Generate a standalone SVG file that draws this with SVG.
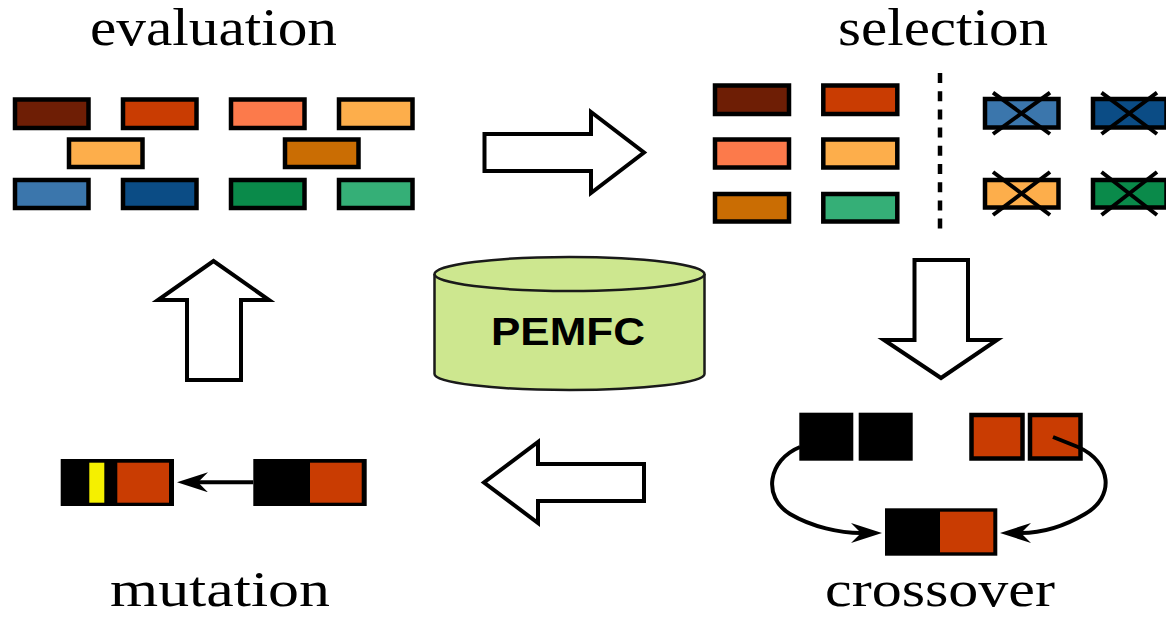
<svg xmlns="http://www.w3.org/2000/svg" width="1166" height="617" viewBox="0 0 1166 617">
<style>
.lbl{font-family:"Liberation Serif","Times New Roman",serif;font-size:53px;fill:#000}
.lblb{font-family:"Liberation Serif","Times New Roman",serif;font-size:50px;fill:#000}
.b{stroke:#000;stroke-width:4.5}
.bigarrow{fill:#fff;stroke:#000;stroke-width:4;stroke-linejoin:miter}
.x{stroke:#000;stroke-width:4;stroke-linecap:butt}
.conn{fill:none;stroke:#000;stroke-width:4}
.c1{fill:#6E1E05}.c2{fill:#C93C02}.c3{fill:#FC7A4B}.c4{fill:#FDAE4B}.c5{fill:#CA6D03}
.c6{fill:#3B76AC}.c7{fill:#0B4C85}.c8{fill:#0A8A4A}.c9{fill:#35AF77}
</style>
<defs>
<marker id="ah" viewBox="0 0 31 20" refX="10" refY="10" markerWidth="31" markerHeight="20" markerUnits="userSpaceOnUse" orient="auto">
<path d="M0,0 L31,10 L0,20 L10,10 Z" fill="#000"/>
</marker>
</defs>
<rect width="1166" height="617" fill="#fff"/>

<g id="evaluation">
<text class="lbl" x="90" y="45" textLength="247" lengthAdjust="spacingAndGlyphs">evaluation</text>
<rect class="b c1" x="15" y="99.5" width="73.5" height="28.5"/>
<rect class="b c2" x="123" y="99.5" width="73.5" height="28.5"/>
<rect class="b c3" x="231" y="99.5" width="73.5" height="28.5"/>
<rect class="b c4" x="339" y="99.5" width="73.5" height="28.5"/>
<rect class="b c4" x="69" y="139.5" width="73.5" height="27.5"/>
<rect class="b c5" x="285" y="139.5" width="73.5" height="27.5"/>
<rect class="b c6" x="15" y="180" width="73.5" height="28"/>
<rect class="b c7" x="123" y="180" width="73.5" height="28"/>
<rect class="b c8" x="231" y="180" width="73.5" height="28"/>
<rect class="b c9" x="339" y="180" width="73.5" height="28"/>
</g>

<g id="selection">
<text class="lbl" x="838" y="45" textLength="210" lengthAdjust="spacingAndGlyphs">selection</text>
<rect class="b c1" x="715" y="85.5" width="74" height="28.5"/>
<rect class="b c2" x="823.3" y="85.5" width="74" height="28.5"/>
<rect class="b c3" x="715" y="139.5" width="74" height="28"/>
<rect class="b c4" x="823.3" y="139.5" width="74" height="28"/>
<rect class="b c5" x="715" y="194" width="74" height="27.5"/>
<rect class="b c9" x="823.3" y="194" width="74" height="27.5"/>
<line x1="940" y1="73" x2="940" y2="236" stroke="#000" stroke-width="4.5" stroke-dasharray="10 8.2"/>
<rect class="b c6" x="985" y="99" width="73.5" height="28.5"/>
<rect class="b c7" x="1093" y="99" width="73.5" height="28.5"/>
<rect class="b c4" x="985" y="180" width="73.5" height="27.5"/>
<rect class="b c8" x="1093" y="180" width="73.5" height="27.5"/>
<line class="x" x1="993" y1="92.7" x2="1050" y2="134"/>
<line class="x" x1="1050" y1="92.7" x2="993" y2="134"/>
<line class="x" x1="1101.5" y1="92.7" x2="1157" y2="134"/>
<line class="x" x1="1157" y1="92.7" x2="1101.5" y2="134"/>
<line class="x" x1="993" y1="172" x2="1050" y2="215"/>
<line class="x" x1="1050" y1="172" x2="993" y2="215"/>
<line class="x" x1="1101.5" y1="172" x2="1157" y2="215"/>
<line class="x" x1="1157" y1="172" x2="1101.5" y2="215"/>
</g>

<g id="pemfc">
<path d="M434.5,274 L434.5,374 A135,16 0 0 0 704.5,374 L704.5,274" fill="#CDE78F" stroke="#1a1a1a" stroke-width="2.5"/>
<ellipse cx="569.5" cy="274" rx="135" ry="17" fill="#CDE78F" stroke="#1a1a1a" stroke-width="2.5"/>
<text x="568" y="345" font-family="'Liberation Sans',Arial,sans-serif" font-weight="bold" font-size="39.5" text-anchor="middle" textLength="154" lengthAdjust="spacingAndGlyphs">PEMFC</text>
</g>

<g id="crossover">
<rect x="799.3" y="412.7" width="54" height="48" fill="#000"/>
<rect x="858.7" y="412.7" width="54" height="48" fill="#000"/>
<rect class="b c2" x="971.5" y="415" width="51" height="43.5"/>
<rect class="b c2" x="1030" y="415" width="50.5" height="43.5"/>
<rect x="885" y="508.3" width="112.3" height="47.4" fill="#000"/>
<rect class="c2" x="940" y="511.7" width="53.3" height="40.6"/>
<text class="lblb" x="825" y="606" textLength="230" lengthAdjust="spacingAndGlyphs">crossover</text>
</g>

<g id="mutation">
<rect x="60.7" y="459" width="113.3" height="47" fill="#000"/>
<rect x="89.3" y="462.7" width="15" height="40" fill="#F5F000"/>
<rect class="c2" x="117.3" y="462.7" width="51.7" height="40"/>
<rect x="253.3" y="459" width="113.4" height="47" fill="#000"/>
<rect class="c2" x="310" y="462.7" width="51.7" height="40"/>
<text class="lblb" x="110" y="606" textLength="220" lengthAdjust="spacingAndGlyphs">mutation</text>
</g>

<g id="connectors">
<polygon class="bigarrow" points="484.5,134 591,134 591,112 644,152.5 591,193 591,171 484.5,171"/>
<polygon class="bigarrow" points="914.5,260 968,260 968,340 997,340 941,378 884,340 914.5,340"/>
<polygon class="bigarrow" points="644,464 538,464 538,442 484,482.5 538,523 538,501 644,501"/>
<polygon class="bigarrow" points="187,380 187,300 158,300 213.5,261 269,300 241,300 241,380"/>
<path class="conn" d="M800,447 C768,460 762,497 790,514 C812,527 840,533 861,533" marker-end="url(#ah)"/>
<path class="conn" d="M1053,437 L1078,447 C1112,462 1115,497 1085,514 C1063,527 1040,533 1021,533" marker-end="url(#ah)"/>
<line class="conn" x1="253.3" y1="482.3" x2="198" y2="482.3" marker-end="url(#ah)"/>
</g>
</svg>
